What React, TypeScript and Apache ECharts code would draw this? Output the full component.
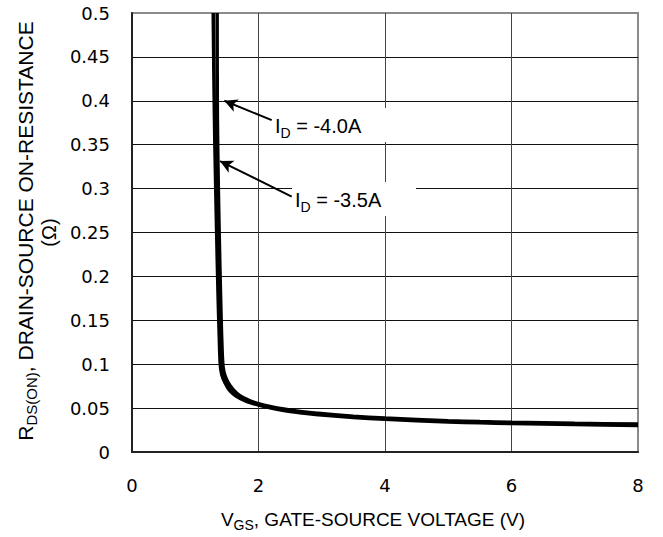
import React, { useEffect, useRef } from "react";
import * as echarts from "echarts";

// ---- data ----
const xTickMin = 0;
const xTickMax = 8;
const xTickStep = 2;
const yTickMin = 0;
const yTickMax = 0.5;
const yTickStep = 0.05;

const seriesNames = ["ID = -3.5A", "ID = -4.0A"];

const vgs35 = [1.284, 1.296, 1.31, 1.335, 1.36, 1.38, 1.395, 1.42, 1.47, 1.55, 1.65, 1.8, 2.0, 2.2, 2.4, 2.6, 2.9, 3.5, 4.0, 5.0, 5.5, 6.0, 7.0, 8.0];
const rds35 = [0.5, 0.42, 0.35, 0.26, 0.18, 0.13, 0.1, 0.088, 0.079, 0.0695, 0.0635, 0.058, 0.0535, 0.05, 0.0473, 0.0452, 0.0428, 0.0393, 0.0372, 0.0342, 0.0332, 0.0324, 0.0312, 0.0303];

const vgs40 = [1.346, 1.347, 1.35, 1.365, 1.39, 1.41, 1.425, 1.44, 1.47, 1.52, 1.6, 1.7, 1.85, 2.0, 2.2, 2.4, 2.6, 2.9, 3.5, 4.0, 5.0, 5.5, 6.0, 7.0, 8.0];
const rds40 = [0.5, 0.44, 0.38, 0.3, 0.21, 0.15, 0.115, 0.097, 0.087, 0.079, 0.071, 0.0645, 0.0588, 0.0551, 0.0516, 0.0489, 0.0468, 0.0443, 0.0407, 0.0386, 0.0357, 0.0347, 0.0339, 0.0327, 0.0318];

// arrow [tail, tip] in data units
const arrow40 = [[2.209, 0.378], [1.459, 0.4]];
const arrow35 = [[2.525, 0.2908], [1.391, 0.3314]];
// label anchors (text start) in data units
const label40At = [2.261, 0.3713];
const label35At = [2.577, 0.287];
const label40Text = ["I", "D", " = -4.0A"];
const label35Text = ["I", "D", " = -3.5A"];

const xTitle = ["V", "GS", ", GATE-SOURCE VOLTAGE (V)"];
const yTitle1 = ["R", "DS(ON)", ", DRAIN-SOURCE ON-RESISTANCE"];
const yTitle2 = "(\u03A9)";

const FONT = "'Liberation Sans', Arial, sans-serif";
const TICKFONT = "'DejaVu Sans', sans-serif";

function zip(xs: number[], ys: number[]) {
  return xs.map((x, i) => [x, ys[i]]);
}

function richSub(size: number, subSize: number, lh: number) {
  return {
    m: { fontSize: size, fontFamily: FONT, lineHeight: lh, verticalAlign: "middle", fill: "#000", color: "#000" },
    s: { fontSize: subSize, fontFamily: FONT, lineHeight: subSize, verticalAlign: "bottom", fill: "#000", color: "#000" },
  };
}

function subText(parts: string[]) {
  return `{m|${parts[0]}}{s|${parts[1]}}{m|${parts[2]}}`;
}

export default function App() {
  const ref = useRef<HTMLDivElement>(null);
  useEffect(() => {
    const chart = echarts.init(ref.current!, null, { renderer: "svg" });
    const arrowLine = (a: number[][]) => ({
      silent: true,
      animation: false,
      label: { show: false },
      lineStyle: { color: "#000", width: 2, type: "solid" },
      emphasis: { disabled: true },
      data: [[
        { coord: a[0], symbol: "none" },
        { coord: a[1], symbol: "arrow", symbolSize: [10, 13] },
      ]],
    });
    chart.setOption({
      animation: false,
      grid: {
        left: 132, top: 13, width: 506, height: 439,
        show: true, borderColor: "#8a8a8a", borderWidth: 2,
        outerBoundsMode: "none",
      },
      xAxis: {
        type: "value", min: xTickMin, max: xTickMax, interval: xTickStep,
        axisLine: { show: true, lineStyle: { color: "#222", width: 2 } },
        axisTick: { show: false },
        axisLabel: { color: "#000", fontSize: 18, fontFamily: TICKFONT, margin: 24 },
        splitLine: { show: true, showMaxLine: false, lineStyle: { color: "#444", width: 1 } },
      },
      yAxis: {
        type: "value", min: yTickMin, max: yTickMax, interval: yTickStep,
        axisLine: { show: true, lineStyle: { color: "#222", width: 2 } },
        axisTick: { show: false },
        axisLabel: { color: "#000", fontSize: 18, fontFamily: TICKFONT, margin: 22 },
        splitLine: { show: true, showMaxLine: false, lineStyle: { color: "#111", width: 1 } },
      },
      series: [
        {
          name: seriesNames[0], type: "line", data: zip(vgs35, rds35),
          showSymbol: false, smooth: 0.25, clip: true,
          lineStyle: { color: "#000", width: 3.5 },
          markLine: arrowLine(arrow35),
        },
        {
          name: seriesNames[1], type: "line", data: zip(vgs40, rds40),
          showSymbol: false, smooth: 0.25, clip: true,
          lineStyle: { color: "#000", width: 3.5 },
          markLine: arrowLine(arrow40),
        },
      ],
      graphic: [
        {
          id: "xt", type: "text", x: 373, y: 519,
          style: { text: subText(xTitle), rich: richSub(19, 14, 26), align: "center", verticalAlign: "middle" },
        },
        {
          id: "yt1", type: "text", x: 25, y: 231, rotation: Math.PI / 2,
          style: { text: subText(yTitle1), rich: richSub(21, 15, 28), align: "center", verticalAlign: "middle" },
        },
        {
          id: "yt2", type: "text", x: 49, y: 232.5, rotation: Math.PI / 2,
          style: { text: yTitle2, font: `20px ${FONT}`, fill: "#000", align: "center", verticalAlign: "middle" },
        },
      ],
    });

    const p40 = chart.convertToPixel({ gridIndex: 0 }, label40At) as number[];
    const p35 = chart.convertToPixel({ gridIndex: 0 }, label35At) as number[];
    const box = (id: string, p: number[]) => ({
      id, type: "rect", z: 50,
      shape: { x: p[0] - 3, y: p[1] - 18, width: 124, height: 34 },
      style: { fill: "#fff" },
    });
    const lbl = (id: string, p: number[], parts: string[]) => ({
      id, type: "text", z: 51, x: p[0], y: p[1],
      style: { text: subText(parts), rich: richSub(20, 14, 28), align: "left", verticalAlign: "middle" },
    });
    chart.setOption({
      graphic: [
        box("b40", p40), lbl("t40", p40, label40Text),
        box("b35", p35), lbl("t35", p35, label35Text),
      ],
    });
    return () => chart.dispose();
  }, []);
  return <div ref={ref} style={{ position: "absolute", left: 0, top: 0, width: 663, height: 537 }} />;
}
